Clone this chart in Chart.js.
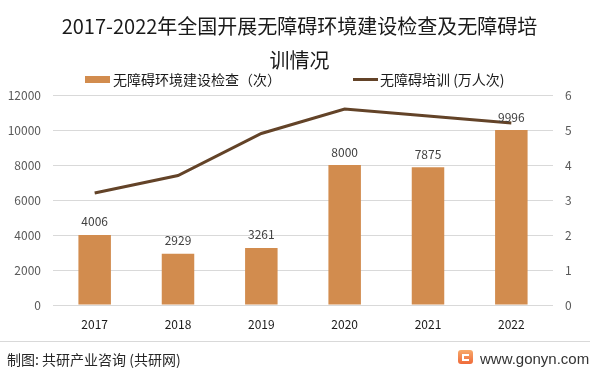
<!DOCTYPE html>
<html>
<head>
<meta charset="utf-8">
<script src="https://cdn.jsdelivr.net/npm/chart.js@4.4.1/dist/chart.umd.min.js"></script>
<style>
  html, body { margin: 0; padding: 0; background: #ffffff; }
  #wrap { position: relative; width: 599px; height: 375px; overflow: hidden; font-family: "Noto Sans CJK SC", "Noto Sans", sans-serif; }
  #c { position: absolute; left: 0; top: 0; }
  #title { position: absolute; left: 0; top: 9px; width: 599px; text-align: center; font-size: 20px; line-height: 34px; color: #1a1a1a; }
  .leg { position: absolute; top: 69px; height: 20px; line-height: 20px; font-size: 14px; color: #1a1a1a; white-space: nowrap; }
  .sw { position: absolute; }
  #sep { position: absolute; left: 0; top: 341px; width: 590px; height: 1px; background: #d9d9d9; }
  #src { position: absolute; left: 7px; top: 349px; font-size: 14px; line-height: 20px; color: #262626; }
  #site { position: absolute; left: 480px; top: 349px; font-size: 15px; line-height: 20px; color: #333; font-family: "Liberation Sans", Arial, sans-serif; }
  #logo { position: absolute; left: 458px; top: 350px; width: 15px; height: 14px; border-radius: 3px; background: linear-gradient(180deg, #f7a96a, #ef6a3a); }
  #logo::after { content: ""; position: absolute; left: 4px; top: 4px; width: 5px; height: 3px; border-top: 2px solid #fff; border-left: 2px solid #fff; border-bottom: 2px solid #fff; }
</style>
</head>
<body>
<div id="wrap">
  <canvas id="c" width="599" height="375"></canvas>
  <div id="title">2017-2022年全国开展无障碍环境建设检查及无障碍培<br>训情况</div>
  <div id="legend"></div>
  <div id="sep"></div>
  <div id="src">制图: 共研产业咨询 (共研网)</div>
  <div id="logo"></div>
  <div id="site">www.gonyn.com</div>
</div>
<script>
// ---- data ----
const years = ["2017", "2018", "2019", "2020", "2021", "2022"];
const inspections = [4006, 2929, 3261, 8000, 7875, 9996];
const trainings = [3.2, 3.7, 4.9, 5.6, 5.4, 5.2];
const inspectionLabel = "无障碍环境建设检查（次）";
const trainingLabel = "无障碍培训 (万人次)";
const leftTicks = [0, 2000, 4000, 6000, 8000, 10000, 12000];
const rightTicks = [0, 1, 2, 3, 4, 5, 6];

const barColor = "#d28c4e";
const lineColor = "#634328";

const barLabels = {
  id: "barLabels",
  afterDatasetsDraw(chart) {
    const ctx = chart.ctx;
    const meta = chart.getDatasetMeta(0);
    ctx.save();
    ctx.font = "12px 'Noto Sans CJK SC', 'Noto Sans', sans-serif";
    ctx.fillStyle = "#404040";
    ctx.textAlign = "center";
    ctx.textBaseline = "middle";
    meta.data.forEach((el, i) => {
      ctx.fillText(String(inspections[i]), el.x, el.y - 13);
    });
    ctx.restore();
  }
};

const tickFont = { size: 12, family: "'Noto Sans CJK SC', 'Noto Sans', sans-serif" };

const chart = new Chart(document.getElementById("c"), {
  data: {
    labels: years,
    datasets: [
      {
        type: "bar",
        label: inspectionLabel,
        data: inspections,
        backgroundColor: barColor,
        yAxisID: "y",
        categoryPercentage: 1,
        barPercentage: 0.39,
        order: 2
      },
      {
        type: "line",
        label: trainingLabel,
        data: trainings,
        borderColor: lineColor,
        backgroundColor: lineColor,
        borderWidth: 3,
        pointRadius: 0,
        tension: 0,
        yAxisID: "y1",
        order: 1
      }
    ]
  },
  options: {
    responsive: false,
    animation: false,
    layout: { padding: { top: 95, bottom: 40, left: 0, right: 0 } },
    plugins: {
      legend: { display: false },
      title: { display: false },
      tooltip: { enabled: false }
    },
    scales: {
      x: {
        grid: { display: false },
        border: { display: false },
        ticks: { color: "#1a1a1a", font: tickFont, padding: 4 },
        afterFit(s) { s.height = 30; }
      },
      y: {
        position: "left",
        min: leftTicks[0],
        max: leftTicks[leftTicks.length - 1],
        afterBuildTicks(s) { s.ticks = leftTicks.map(v => ({ value: v })); },
        grid: { color: "#d9d9d9", drawTicks: false, lineWidth: 1 },
        border: { display: false },
        ticks: { color: "#595959", font: tickFont, padding: 12, callback: v => String(v) },
        afterFit(s) { s.width = 53; }
      },
      y1: {
        position: "right",
        min: rightTicks[0],
        max: rightTicks[rightTicks.length - 1],
        afterBuildTicks(s) { s.ticks = rightTicks.map(v => ({ value: v })); },
        grid: { display: false, drawTicks: false },
        border: { display: false },
        ticks: { color: "#595959", font: tickFont, padding: 12, callback: v => String(v) },
        afterFit(s) { s.width = 46; }
      }
    }
  },
  plugins: [barLabels]
});

// HTML legend built from the chart's datasets
(function buildLegend() {
  const legend = document.getElementById("legend");
  const pos = [
    { sw: 85, swW: 25, swH: 7, text: 113 },
    { sw: 353, swW: 25, swH: 3, text: 380 }
  ];
  chart.data.datasets.forEach((ds, i) => {
    const p = pos[i];
    const sw = document.createElement("div");
    sw.className = "sw";
    sw.style.left = p.sw + "px";
    sw.style.width = p.swW + "px";
    sw.style.height = p.swH + "px";
    sw.style.top = (79 - p.swH / 2) + "px";
    sw.style.background = ds.type === "bar" ? ds.backgroundColor : ds.borderColor;
    legend.appendChild(sw);
    const t = document.createElement("div");
    t.className = "leg";
    t.style.left = p.text + "px";
    t.textContent = ds.label;
    legend.appendChild(t);
  });
})();
</script>
</body>
</html>
